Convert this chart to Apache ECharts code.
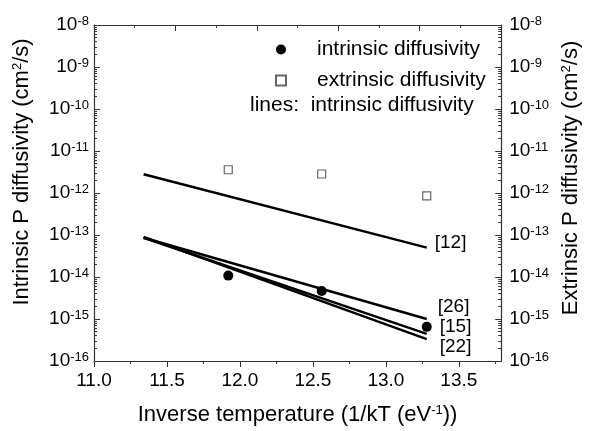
<!DOCTYPE html>
<html>
<head>
<meta charset="utf-8">
<script src="https://cdn.jsdelivr.net/npm/echarts@6/dist/echarts.min.js"></script>
<style>
  html, body { margin: 0; padding: 0; background: #fff; }
  #chart { width: 590px; height: 431px; }
</style>
</head>
<body>
<div id="chart"></div>
<script>
// inverse temperature of the two ends of each literature line
const lineX = [11.34, 13.28];
const ref12 = [2.8e-12, 5.0e-14];
const ref26 = [8.6e-14, 1.0e-15];
const ref15 = [8.6e-14, 4.4e-16];
const ref22 = [9.0e-14, 3.3e-16];

// measured points
const tempX = [11.92, 12.56, 13.28];
const intrinsic = [1.08e-14, 4.65e-15, 6.5e-16];
const extrinsic = [3.58e-12, 2.83e-12, 8.5e-13];

// ticks
const xMajor = [11.0, 11.5, 12.0, 12.5, 13.0, 13.5];
const xMinor = [11.25, 11.75, 12.25, 12.75, 13.25, 13.75];
const decades = [1e-16, 1e-15, 1e-14, 1e-13, 1e-12, 1e-11, 1e-10, 1e-9, 1e-8];
const yMinor = [];
for (let e = -16; e < -8; e++) {
  for (let k = 2; k <= 9; k++) yMinor.push(k * Math.pow(10, e));
}

const FONT = "'Liberation Sans', Arial, sans-serif";
const AXIS_COLOR = "#333";

const pair = (xs, ys) => xs.map((x, i) => [x, ys[i]]);

const powLabel = {
  show: true,
  fontSize: 19,
  color: "#000",
  fontFamily: FONT,
  formatter: (v) => "{b|10}{s|" + Math.round(Math.log10(v)) + "}",
  rich: {
    b: { fontSize: 19, lineHeight: 20, color: "#000", fontFamily: FONT },
    s: { fontSize: 13, lineHeight: 11, color: "#000", fontFamily: FONT, verticalAlign: "top" },
  },
  customValues: decades,
};

const nameRich = {
  t: { fontSize: 22, lineHeight: 22, color: "#000", fontFamily: FONT },
  s: { fontSize: 13, lineHeight: 12, color: "#000", fontFamily: FONT, verticalAlign: "top" },
};

const lineSeries = (name, data, offset) => ({
  name: name,
  type: "line",
  data: pair(lineX, data),
  symbol: "none",
  lineStyle: { color: "#000", width: 2.4 },
  endLabel: {
    show: true,
    formatter: name,
    fontSize: 19,
    fontFamily: FONT,
    color: "#000",
    distance: 0,
    offset: offset,
  },
  silent: true,
  z: 2,
});

const option = {
  animation: false,
  backgroundColor: "#fff",
  grid: { left: 94, right: 75, top: 25, bottom: 64, containLabel: false },
  legend: {
    data: ["intrinsic diffusivity", "extrinsic diffusivity"],
    orient: "vertical",
    left: 270,
    top: 34,
    itemWidth: 10,
    itemHeight: 10,
    itemGap: 10,
    textStyle: {
      fontSize: 21,
      lineHeight: 20,
      fontFamily: FONT,
      color: "#000",
      padding: [0, 0, 0, 26],
    },
  },
  graphic: [
    {
      type: "text",
      left: 250,
      top: 95,
      style: {
        text: "lines:  intrinsic diffusivity",
        fontSize: 21,
        fontFamily: FONT,
        fill: "#000",
      },
    },
  ],
  xAxis: [
    {
      type: "value",
      position: "bottom",
      min: 11,
      max: 13.79,
      name: "Inverse temperature (1/kT (eV{s|-1}))",
      nameLocation: "middle",
      nameGap: 43,
      nameTextStyle: { fontSize: 22, fontFamily: FONT, color: "#000", rich: nameRich },
      axisLine: { show: true, lineStyle: { color: AXIS_COLOR, width: 1.2 } },
      axisTick: { show: true, length: 6, customValues: xMajor, lineStyle: { color: AXIS_COLOR } },
      axisLabel: {
        fontSize: 19,
        fontFamily: FONT,
        color: "#000",
        margin: 10,
        customValues: xMajor,
        formatter: (v) => v.toFixed(1),
      },
      splitLine: { show: false },
    },
    {
      type: "value",
      position: "bottom",
      min: 11,
      max: 13.79,
      axisLine: { show: false },
      axisTick: { show: true, length: 3, customValues: xMinor, lineStyle: { color: AXIS_COLOR } },
      axisLabel: { show: false },
      splitLine: { show: false },
    },
    {
      type: "value",
      position: "top",
      min: 0,
      max: 10,
      interval: 2,
      axisLine: { show: true, lineStyle: { color: AXIS_COLOR, width: 1.2 } },
      axisTick: { show: true, inside: true, length: 6, lineStyle: { color: AXIS_COLOR } },
      minorTick: { show: true, splitNumber: 2, length: 3, lineStyle: { color: AXIS_COLOR } },
      axisLabel: { show: false },
      splitLine: { show: false },
    },
  ],
  yAxis: [
    {
      type: "log",
      position: "left",
      min: 1e-16,
      max: 1e-8,
      name: "Intrinsic P diffusivity (cm{s|2}/s)",
      nameLocation: "middle",
      nameRotate: 90,
      nameGap: 61,
      nameTextStyle: {
        fontSize: 22,
        fontFamily: FONT,
        color: "#000",
        rich: nameRich,
        padding: [0, 0, 0, 42],
      },
      axisLine: { show: true, lineStyle: { color: AXIS_COLOR, width: 1.2 } },
      axisTick: { show: true, inside: true, length: 6, customValues: decades, lineStyle: { color: AXIS_COLOR } },
      axisLabel: Object.assign({ margin: 5 }, powLabel),
      splitLine: { show: false },
    },
    {
      type: "log",
      position: "left",
      min: 1e-16,
      max: 1e-8,
      axisLine: { show: false },
      axisTick: { show: true, inside: true, length: 3, customValues: yMinor, lineStyle: { color: AXIS_COLOR } },
      axisLabel: { show: false },
      splitLine: { show: false },
    },
    {
      type: "log",
      position: "right",
      min: 1e-16,
      max: 1e-8,
      name: "Extrinsic P diffusivity (cm{s|2}/s)",
      nameLocation: "middle",
      nameRotate: 90,
      nameGap: 50,
      nameTextStyle: {
        fontSize: 22,
        fontFamily: FONT,
        color: "#000",
        rich: nameRich,
        padding: [0, 0, 0, 30],
      },
      axisLine: { show: true, lineStyle: { color: AXIS_COLOR, width: 1.2 } },
      axisTick: { show: true, inside: true, length: 6, customValues: decades, lineStyle: { color: AXIS_COLOR } },
      axisLabel: Object.assign({ margin: 8 }, powLabel),
      splitLine: { show: false },
    },
    {
      type: "log",
      position: "right",
      min: 1e-16,
      max: 1e-8,
      axisLine: { show: false },
      axisTick: { show: true, inside: true, length: 3, customValues: yMinor, lineStyle: { color: AXIS_COLOR } },
      axisLabel: { show: false },
      splitLine: { show: false },
    },
  ],
  series: [
    lineSeries("[12]", ref12, [8, -5]),
    lineSeries("[26]", ref26, [11, -12]),
    lineSeries("[15]", ref15, [13, -7]),
    lineSeries("[22]", ref22, [13, 8]),
    {
      name: "intrinsic diffusivity",
      type: "scatter",
      data: pair(tempX, intrinsic),
      symbol: "circle",
      symbolSize: 10,
      itemStyle: { color: "#000", opacity: 1 },
      z: 3,
    },
    {
      name: "extrinsic diffusivity",
      type: "scatter",
      data: pair(tempX, extrinsic),
      symbol: "rect",
      symbolSize: 8,
      itemStyle: { color: "#fff", borderColor: "#666", borderWidth: 1.2, opacity: 1 },
      z: 3,
    },
  ],
};

const myChart = echarts.init(document.getElementById("chart"));
myChart.setOption(option);
window.addEventListener("resize", () => {
  myChart.resize();
});
</script>
</body>
</html>
